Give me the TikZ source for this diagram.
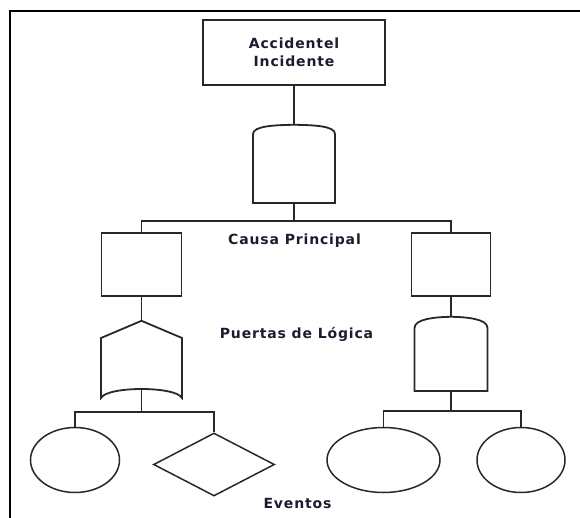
\documentclass[tikz,border=0pt]{standalone}
\usepackage{fontspec}
\setmainfont{DejaVu Sans}
\newcommand{\capfont}{\bfseries\fontsize{14}{18}\selectfont\addfontfeatures{LetterSpace=6}}
\usepackage{tikz}
\usetikzlibrary{arrows}
\usetikzlibrary{positioning}
\usetikzlibrary{shapes.geometric}
\definecolor{ink}{RGB}{40,40,40}
\definecolor{txt}{RGB}{28,28,48}
\tikzstyle{every node}+=[inner sep=0pt]
\tikzstyle{block} = [rectangle, draw=ink, line width=1.8pt, text=txt, font=\capfont, align=center]
\tikzstyle{gate} = [rectangle, draw=none]
\tikzstyle{gateline} = [draw=ink, line width=1.8pt]
\tikzstyle{evt} = [ellipse, draw=ink, line width=1.5pt]
\tikzstyle{cond} = [diamond, draw=ink, line width=1.5pt]
\tikzstyle{caption} = [text=txt, font=\capfont]
\tikzstyle{line} = [draw=ink, line width=1.4pt]

\begin{document}
\begin{tikzpicture}[x=1pt, y=-1pt]
            \useasboundingbox (0,0) rectangle (580,518);
            % Frame
            \draw [line width=2pt] (10,518) -- (10,11.5) -- (580,11.5);
            % Place nodes
            \node [block, minimum width=182pt, minimum height=65pt] (top) at (294,52.5) {Accidentel\\Incidente};
            \node [gate, minimum width=83pt, minimum height=78pt] (andA) at (294,164) {};
            \coordinate (j1) at (294,221);
            \node [block, minimum width=80pt, minimum height=63pt] (causeL) at (141.5,264.5) {};
            \node [block, minimum width=79pt, minimum height=63pt] (causeR) at (451,264.5) {};
            \node [gate, minimum width=81pt, minimum height=67pt] (orL) at (141.5,354.5) {};
            \node [gate, minimum width=74pt, minimum height=74pt] (andR) at (451,354) {};
            \coordinate (j2) at (141.5,412);
            \coordinate (j3) at (451,411);
            \node [evt, minimum width=89pt, minimum height=65pt] (e1) at (75,460) {};
            \node [cond, minimum width=121pt, minimum height=63pt] (e2) at (214,464.5) {};
            \node [evt, minimum width=113pt, minimum height=65pt] (e3) at (383.5,460) {};
            \node [evt, minimum width=88pt, minimum height=65pt] (e4) at (521,460) {};
            % Gate outlines
            \draw [gateline] (253,203) -- (253,134) .. controls (253,126) and (275,125) .. (andA.north)
                  .. controls (314,125) and (335,126) .. (335,134) -- (335,203) -- cycle;
            \draw [gateline] (101,398) -- (101,338) -- (orL.north) -- (182,338) -- (182,398)
                  .. controls (176,386) and (107,386) .. cycle;
            \draw [gateline] (414.5,391) -- (414.5,328) .. controls (414.5,319) and (435,317) .. (andR.north)
                  .. controls (467,317) and (487.5,319) .. (487.5,328) -- (487.5,391) -- cycle;
            % Texts
            \node [caption] (t1) at (294.5,241) {Causa Principal};
            \node [caption] (t2) at (296.5,334) {Puertas de Lógica};
            \node [caption] (t3) at (297.5,503) {Eventos};
            % Draw edges
            \path [line] (top) -- (andA);
            \path [line] (andA) -- (j1);
            \path [line] (j1) -| (causeL);
            \path [line] (j1) -| (causeR);
            \path [line] (causeL) -- (orL);
            \path [line] (causeR) -- (andR);
            \path [line] (orL.south) -- (j2);
            \path [line] (j2) -| (e1);
            \path [line] (j2) -| (e2);
            \path [line] (andR) -- (j3);
            \path [line] (j3) -| (e3);
            \path [line] (j3) -| (e4);
\end{tikzpicture}
\end{document}
